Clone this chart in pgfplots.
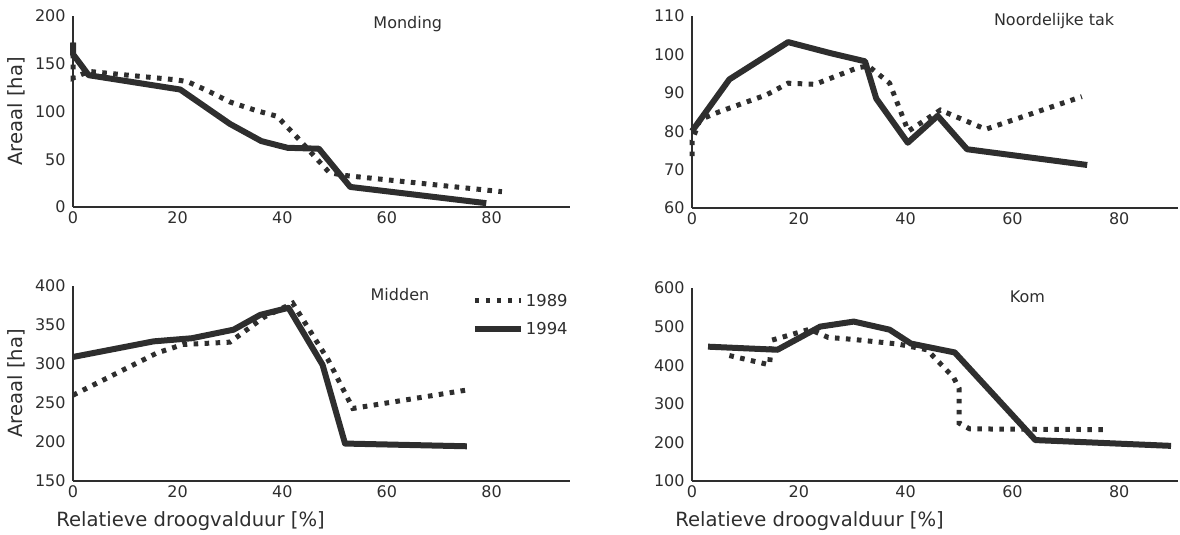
\documentclass[border=0pt]{standalone}
\usepackage{pgfplots}
\pgfplotsset{compat=1.18}
\usepackage{fontspec}
\setmainfont{DejaVu Sans}
\definecolor{ink}{HTML}{2E2E2E}
\pgfplotsset{
  panel/.style={
    scale only axis, anchor=south west,
    axis x line=bottom, axis y line=left,
    axis line style={-, line width=0.9pt, ink},
    major tick length=0pt,
    xmin=0, xtick={0,20,40,60,80},
    enlargelimits=false, clip=false,
    tick label style={font=\fontsize{8}{9}\selectfont, text=ink},
    /pgf/number format/assume math mode=true,
    label style={font=\fontsize{9.8}{11}\selectfont, text=ink},
    xticklabel style={inner sep=2pt},
    yticklabel style={inner sep=3.5pt},
  },
  xl/.style={xlabel={Relatieve droogvalduur [\%]},
    xlabel style={at={(axis description cs:0,0)}, anchor=north west, inner sep=0pt, xshift=-8.5pt, yshift=-15.2pt}},
  yl/.style={ylabel={Areaal [ha]},
    ylabel style={at={([xshift=-28.5pt]axis description cs:0,0.5)}, anchor=center}},
}
\tikzset{
  y89/.style={ink, line width=2.5pt, dash pattern=on 2.3pt off 3.2pt},
  y94/.style={ink, line width=3pt, line join=round},
  ttl/.style={font=\fontsize{8}{9}\selectfont, text=ink},
  leg/.style={anchor=west, inner sep=0pt, font=\fontsize{8.2}{9}\selectfont, text=ink},
}
\begin{document}
\begin{tikzpicture}
\useasboundingbox (0,0) rectangle (590pt,267.5pt);
% Monding
\begin{axis}[panel, yl, at={(36.5pt,164pt)}, width=248.5pt, height=95.5pt,
  xmax=95, ymin=0, ymax=200, ytick={0,50,100,150,200}]
\addplot[y89] coordinates {(0,172) (0,135) (3,142) (20,133) (22,131) (26,121) (30,110) (35,101) (39,95) (43,72) (49,36) (52,33) (82,16)};
\addplot[y94] coordinates {(0,172) (0,160) (3,138) (20.5,123) (30,87) (36,69) (41,62) (47,61) (53,21) (79,4)};
\node[ttl] at (axis cs:64,192) {Monding};
\end{axis}
% Noordelijke tak
\begin{axis}[panel, at={(346pt,163.5pt)}, width=243pt, height=96pt,
  xmax=91, ymin=60, ymax=110, ytick={60,70,80,90,100,110}]
\addplot[y89] coordinates {(0,73.5) (0,77.5) (1.5,83) (5,85) (14,89.5) (18,92.5) (23,92.2) (31,96.5) (33,97) (37,92.5) (40.5,80) (46.5,85.5) (55,80.5) (73,89)};
\addplot[y94] coordinates {(0,80) (7,93.5) (18,103.2) (26,100.3) (32.4,98.2) (34.5,88.5) (40.4,77) (46,84) (51.5,75.3) (74,71.2)};
\node[ttl] at (axis cs:67.8,108.6) {Noordelijke tak};
\end{axis}
% Midden
\begin{axis}[panel, yl, xl, at={(36.5pt,27pt)}, width=248.5pt, height=97.5pt,
  xmax=95, ymin=150, ymax=400, ytick={150,200,250,300,350,400}]
\addplot[y89] coordinates {(0,260) (16,314) (21,325) (30,328) (36.5,360) (42,378) (48.8,305) (53.5,243) (75.6,267)};
\addplot[y94] coordinates {(0,309) (15.4,329) (22.7,333) (30.7,344) (35.8,363) (41.2,372) (47.7,299) (52,198) (75.3,194.5)};
\node[ttl] at (axis cs:62.5,389) {Midden};
\addplot[y89] coordinates {(76.8,381) (85.7,381)};
\addplot[y94] coordinates {(76.8,345) (85.7,345)};
\node[leg] at (axis cs:86.5,381) {1989};
\node[leg] at (axis cs:86.5,345) {1994};
\end{axis}
% Kom
\begin{axis}[panel, xl, at={(346pt,27pt)}, width=243pt, height=96.5pt,
  xmax=91, ymin=100, ymax=600, ytick={100,200,300,400,500,600}]
\addplot[y89] coordinates {(7,425) (14.5,401) (15,465) (22,493) (25.5,472) (30,467) (38.5,455) (44,440) (49,368) (50,340) (50,250) (52,235) (78,233)};
\addplot[y94] coordinates {(3,448) (16,440) (24,500) (30.3,513) (37,492) (41,456) (49.2,433) (64.3,206) (89.7,191)};
\node[ttl] at (axis cs:62.8,578) {Kom};
\end{axis}
\end{tikzpicture}
\end{document}
